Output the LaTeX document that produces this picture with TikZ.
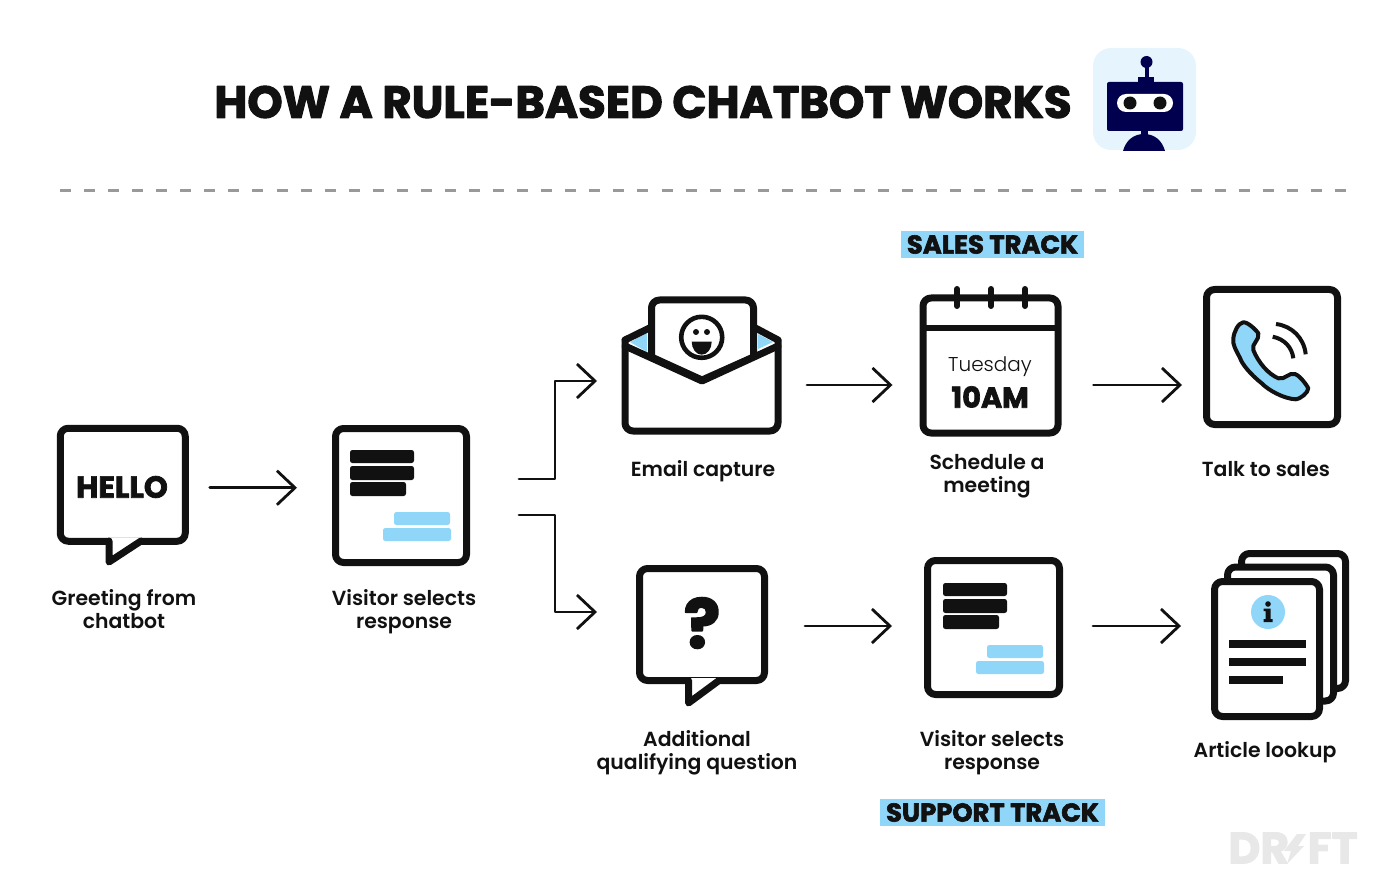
\documentclass[tikz,border=0pt]{standalone}
\usepackage{fontspec}
\setmainfont{Poppins}
\newfontfamily\heavyfont{Poppins Bold}[FakeBold=2.4]
\newfontfamily\capfont{Poppins SemiBold}
\newfontfamily\lightfont{Poppins Light}
\usetikzlibrary{arrows.meta,calc}
\definecolor{ink}{HTML}{111111}
\definecolor{sky}{HTML}{8FD6F9}
\definecolor{tile}{HTML}{E6F5FD}
\definecolor{navy}{HTML}{00004F}
\tikzset{
  frame/.style={draw=ink,line width=3.5pt,rounded corners=4pt,fill=white},
  iconbox/.style={inner sep=0pt,outer sep=0pt},
  stroke/.style={draw=ink,line width=3.5pt,line join=round,line cap=round},
  flow/.style={draw=ink,line width=1.4pt,-{Straight Barb[length=9pt,width=17pt,line width=1.4pt]}},
  bar/.style={fill=ink,rounded corners=1.2pt},
  pill/.style={fill=sky,rounded corners=1.2pt},
  caption/.style={font=\capfont\fontsize{10.2}{11.5}\selectfont,align=center,text=ink,inner sep=0pt},
  track/.style={fill=sky,text=ink,inner sep=0pt,font=\heavyfont\fontsize{12.9}{14}\selectfont},
}
\newcommand{\panelbars}[2]{%
  \begin{scope}[shift={(#1,#2)}]
    \fill[bar] (350,450) rectangle (414,463);
    \fill[bar] (350,466) rectangle (414,480);
    \fill[bar] (350,482) rectangle (406,496);
    \fill[pill] (394,512) rectangle (450,525);
    \fill[pill] (383,528) rectangle (451,541);
  \end{scope}}
\begin{document}
\begin{tikzpicture}[x=0.5pt,y=-0.5pt,line cap=round,line join=round]
\useasboundingbox (0,0) rectangle (1400,887);
\node[font=\heavyfont\fontsize{22.5}{26}\selectfont,text=ink,inner sep=0pt] (title) at (643,102) {HOW A RULE-BASED CHATBOT WORKS};
% robot
\fill[tile,rounded corners=9pt] (1093,48) rectangle (1196,150);
\fill[navy,rounded corners=1pt] (1107,82) rectangle (1183,131);
\fill[navy] (1138,77) rectangle (1154,82);
\fill[navy] (1144.5,65) rectangle (1148.5,77);
\fill[navy] (1146.5,62) circle (6);
\fill[white,rounded corners=4.5pt] (1117,94) rectangle (1173,112);
\fill[ink] (1130,103) circle (6.5);
\fill[ink] (1160,103) circle (6.5);
\fill[navy] (1141,131) rectangle (1148,137);
\fill[navy] (1123,151) .. controls (1126,140) and (1134,134) .. (1144,134) .. controls (1154,134) and (1162,140) .. (1165,151) -- cycle;
\draw[draw=black!40,line width=1.5pt,dash pattern=on 5.5pt off 6.53pt,line cap=butt] (60,191) -- (1347,191);
% greeting
\node[frame,minimum width=62.5pt,minimum height=56.5pt] (hello) at (122.75,484.75) {};
\fill[white] (109,538) -- (109,561) -- (141,538) -- cycle;
\draw[stroke] (109,541) -- (109,562) -- (141,541);
\node[font=\heavyfont\fontsize{15.2}{16}\selectfont,text=ink,inner sep=0pt] (hellotext) at (122,487) {HELLO};
\node[caption] (hellocap) at (124,609.5) {Greeting from\\chatbot};
\node[frame,minimum width=65.5pt,minimum height=67pt] (panela) at (401,495.5) {};
\panelbars{0}{0}
\node[caption] (panelacap) at (404,612) {Visitor selects\\response};
% envelope
\node[iconbox,minimum width=80.5pt,minimum height=50pt] (envelope) at (701.5,381) {};
\filldraw[stroke,fill=white] (651.5,357) -- (651.5,308) arc (180:270:8) -- (745.5,300) arc (270:360:8) -- (753.5,357) -- (702,380) -- cycle;
\fill[sky] (630,342) -- (647,333) -- (647,352) -- cycle;
\fill[sky] (758,334) -- (773,342) -- (758,349) -- cycle;
\draw[stroke] (651.5,327) -- (625,340) (753.5,327) -- (778,340);
\fill[white] (625,346) -- (702,381) -- (778,346) -- (778,428) -- (625,428) -- cycle;
\draw[stroke] (625,346) -- (702,381) -- (778,346);
\draw[stroke] (625,340) -- (625,423) arc (180:90:8) -- (770,431) arc (90:0:8) -- (778,340);
\draw[draw=ink,line width=2.3pt] (701.7,337.3) circle (20.5);
\fill[ink] (696,332) circle (3);
\fill[ink] (707,332) circle (3);
\fill[ink] (691.7,341.7) -- (711.7,341.7) arc (0:180:10 and 13) -- cycle;
\node[caption] (envelopecap) at (703,471) {Email capture};
% calendar
\node[frame,minimum width=67.5pt,minimum height=67.5pt] (calendar) at (990.5,365.5) {};
\draw[stroke,line width=3pt,line cap=butt] (923,328) -- (1058,328);
\foreach \ringx in {957,991,1025} \draw[stroke,line width=3pt] (\ringx,289) -- (\ringx,306);
\node[font=\lightfont\fontsize{10}{12}\selectfont,text=ink,inner sep=0pt] (daytext) at (990,367) {Tuesday};
\node[font=\heavyfont\fontsize{14.4}{15}\selectfont,text=ink,inner sep=0pt] (timetext) at (990,397) {10AM};
\node[caption] (calendarcap) at (987,476) {Schedule a\\meeting};
% phone
\node[frame,minimum width=65.5pt,minimum height=67.5pt] (phone) at (1272,357) {};
\filldraw[fill=sky,draw=ink,line width=2pt] (1243.3,322.3) .. controls (1248,322) and (1256,330) .. (1258.3,333.3) .. controls (1260,340) and (1251,344) .. (1253.3,350) .. controls (1258,362) and (1268,374) .. (1278.3,378.3) .. controls (1285,380) and (1289,372) .. (1295,374) .. controls (1300,376) and (1306,384) .. (1308.3,388.3) .. controls (1308,393) and (1300,399) .. (1296,399.3) .. controls (1284,399) and (1268,390) .. (1261.7,383.3) .. controls (1250,374) and (1242,364) .. (1240,358) .. controls (1236,350) and (1232,344) .. (1233.3,338.3) .. controls (1234,332) and (1238,323) .. (1243.3,322.3) -- cycle;
\draw[draw=ink,line width=2pt,line cap=butt] (1276,324) .. controls (1292,326) and (1304,338) .. (1305.7,354.3);
\draw[draw=ink,line width=2pt,line cap=butt] (1272.7,336.7) .. controls (1284,339) and (1292,347) .. (1293.3,358.3);
\node[caption] (phonecap) at (1266,469) {Talk to sales};
% question
\node[frame,minimum width=62.5pt,minimum height=56pt] (question) at (702,624.5) {};
\fill[white] (688.5,678) -- (688.5,700) -- (719,678) -- cycle;
\draw[stroke] (688.5,680.5) -- (688.5,703) -- (719,680.5);
\node[font=\heavyfont\fontsize{34}{36}\selectfont,text=ink,inner sep=0pt] (questiontext) at (702,623) {?};
\node[caption] (questioncap) at (697,753) {Additional\\qualifying question};
\node[frame,minimum width=66pt,minimum height=67pt] (panelb) at (993.5,627.5) {};
\panelbars{593}{133}
\node[caption] (panelbcap) at (992,753) {Visitor selects\\response};
% docs
\node[frame,minimum width=52pt,minimum height=67.5pt] (docc) at (1293.5,621) {};
\node[frame,minimum width=53pt,minimum height=67pt] (docb) at (1280.5,634) {};
\node[frame,minimum width=52.5pt,minimum height=67.5pt] (doca) at (1267,649) {};
\fill[sky] (1268,612) circle (17);
\fill[ink] (1268,604) circle (2.8);
\fill[ink] (1263.5,608.5) -- (1270.5,608.5) -- (1270.5,619) -- (1272.5,619) -- (1272.5,622) -- (1263.5,622) -- (1263.5,619) -- (1265.5,619) -- (1265.5,611) -- (1263.5,611) -- cycle;
\fill[ink] (1229,640) rectangle (1306,648);
\fill[ink] (1229,658) rectangle (1306,666);
\fill[ink] (1229,676) rectangle (1282.5,684);
\node[caption] (docacap) at (1265,752) {Article lookup};
% tracks
\node[track,minimum width=91.5pt,minimum height=13.5pt] (salestrack) at (992.5,244.5) {SALES TRACK};
\node[track,minimum width=112.5pt,minimum height=13.5pt] (supporttrack) at (992.5,812.5) {SUPPORT TRACK};
% connectors
\draw[flow] ($(hello.east)+(21,3)$) -- ($(panela.west |- hello.east)+(-35,3)$);
\draw[flow] ($(panela.east)+(49,-16.5)$) -| (555,381) -- ($(envelope.west)+(-24,0)$);
\draw[flow] ($(panela.east)+(49,19.5)$) -| (555,612) -- ($(question.west |- 0,612)+(-39,0)$);
\draw[flow] ($(envelope.east)+(25,4)$) -- ($(calendar.west |- envelope.east)+(-27,4)$);
\draw[flow] ($(calendar.east)+(32,19.5)$) -- ($(phone.west |- calendar.east)+(-21,19.5)$);
\draw[flow] ($(question.east)+(37,1.5)$) -- ($(panelb.west |- question.east)+(-32,1.5)$);
\draw[flow] ($(panelb.east)+(30,-1.5)$) -- ($(doca.west |- panelb.east)+(-30,-1.5)$);
% logo
\node[font=\heavyfont\fontsize{22}{22}\selectfont,text=black!9,inner sep=0pt,anchor=west] (logoa) at (1228,848) {DR};
\node[font=\heavyfont\fontsize{22}{22}\selectfont,text=black!9,inner sep=0pt,anchor=east] (logob) at (1358,848) {FT};
\fill[black!9] (1297,834) -- (1306,834) -- (1298,846) -- (1304,846) -- (1287,864) -- (1291,851) -- (1284,851) -- cycle;
\end{tikzpicture}
\end{document}
